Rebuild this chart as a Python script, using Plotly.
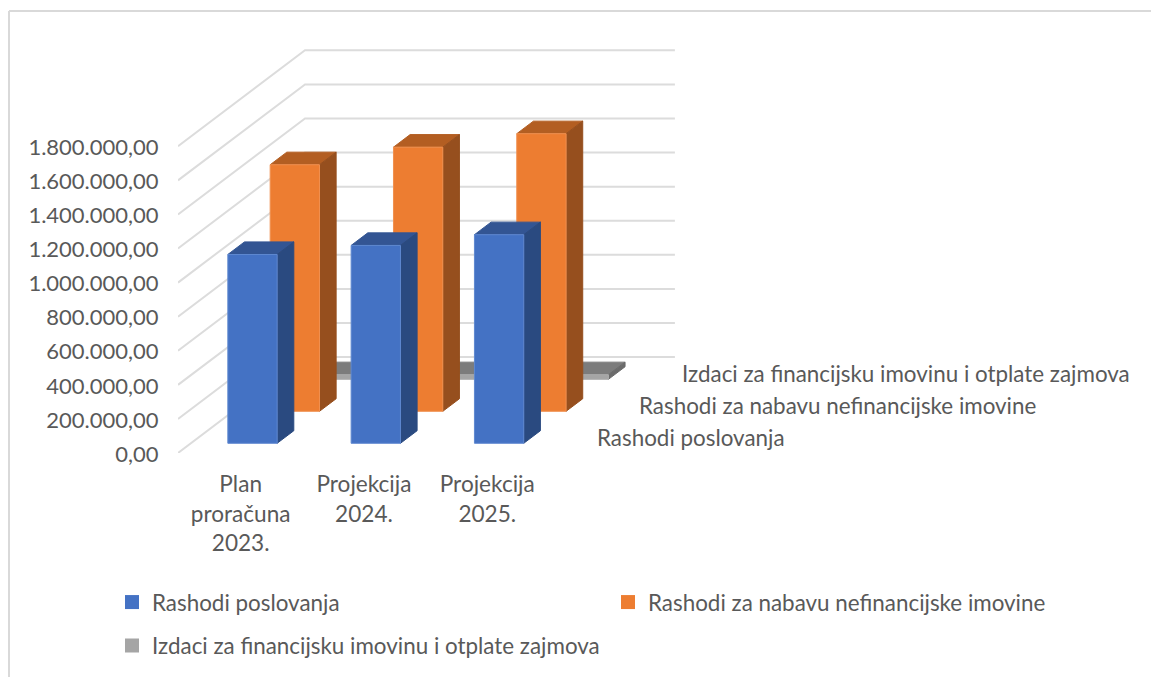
import plotly.graph_objects as go

categories = ["Plan<br>proračuna<br>2023.", "Projekcija<br>2024.", "Projekcija<br>2025."]
series_names = ["Rashodi poslovanja", "Rashodi za nabavu nefinancijske imovine",
                "Izdaci za financijsku imovinu i otplate zajmova"]
rashodi_poslovanja = [1108000, 1161000, 1224000]
rashodi_nabava = [1447000, 1550000, 1629000]
izdaci = [27000, 27000, 27000]
y_ticks = [0, 200000, 400000, 600000, 800000, 1000000, 1200000, 1400000, 1600000, 1800000]
y_tick_labels = ["0,00", "200.000,00", "400.000,00", "600.000,00", "800.000,00", "1.000.000,00",
                 "1.200.000,00", "1.400.000,00", "1.600.000,00", "1.800.000,00"]
front_colors = ["#4472c4", "#ed7d31", "#a5a5a5"]
edge_colors = ["#5f88d0", "#f09050", "#adadad"]
side_colors = ["#2a4a80", "#964f1e", "#6b6b6b"]
top_colors = ["#335593", "#b35e22", "#7c7c7c"]
series_values = [rashodi_poslovanja, rashodi_nabava, izdaci]

W, H = 1151, 677
PX_L, PX_T, PX_B = 178, 44, 453
CAT_PX = 123.3
Y_MAX = 2400000
X_MAX = (W - PX_L) / CAT_PX
DEPTH_X = 127 / CAT_PX          # oblique shift of the floor, in category units
DEPTH_Y = 96 / 34.1 * 200000    # oblique shift of the floor, in value units
BAR_W = 0.4
N_SER = 3
BAR_DEPTH = 0.131


def proj(x, d, v):
    """category position x, depth d (0..1), value v -> axis coordinates"""
    return x + d * DEPTH_X, v + d * DEPTH_Y


def poly(points):
    xs = [p[0] for p in points] + [points[0][0], None]
    ys = [p[1] for p in points] + [points[0][1], None]
    return xs, ys


fig = go.Figure()

# walls: grid lines
gx, gy = [], []
for v in y_ticks:
    for p in (proj(0, 0, v), proj(0, 1, v), proj(len(categories), 1, v)):
        gx.append(p[0])
        gy.append(p[1])
    gx.append(None)
    gy.append(None)
fig.add_trace(go.Scatter(x=gx, y=gy, mode="lines", line=dict(color="#dcdcdc", width=2),
                         showlegend=False, hoverinfo="skip", cliponaxis=False))

# bars, back row first
for s in reversed(range(N_SER)):
    d0 = (s + 0.5) / N_SER - BAR_DEPTH / 2
    d1 = d0 + BAR_DEPTH
    fx, fy, sx, sy, tx, ty = [], [], [], [], [], []
    for c, val in enumerate(series_values[s]):
        x0 = c + (1 - BAR_W) / 2
        x1 = x0 + BAR_W
        a, b = poly([proj(x0, d0, 0), proj(x1, d0, 0), proj(x1, d0, val), proj(x0, d0, val)])
        fx += a; fy += b
        a, b = poly([proj(x1, d0, 0), proj(x1, d1, 0), proj(x1, d1, val), proj(x1, d0, val)])
        sx += a; sy += b
        a, b = poly([proj(x0, d0, val), proj(x1, d0, val), proj(x1, d1, val), proj(x0, d1, val)])
        tx += a; ty += b
    common = dict(mode="lines", fill="toself", showlegend=False, hoverinfo="skip", cliponaxis=False)
    fig.add_trace(go.Scatter(x=tx, y=ty, fillcolor=top_colors[s], line=dict(color=top_colors[s], width=1), **common))
    fig.add_trace(go.Scatter(x=sx, y=sy, fillcolor=side_colors[s], line=dict(color=side_colors[s], width=1), **common))
    fig.add_trace(go.Scatter(x=fx, y=fy, fillcolor=front_colors[s], line=dict(color=edge_colors[s], width=1), **common))

# legend entries
legend_ids = ["legend", "legend2", "legend3"]
for s in range(N_SER):
    fig.add_trace(go.Scatter(x=[None], y=[None], mode="markers", name=series_names[s],
                             marker=dict(symbol="square", size=14, color=front_colors[s]),
                             legend=legend_ids[s]))

FONT = "Lato"
FS = 22.4
TXT = "#595959"


def legend_at(px, py):
    return dict(x=px / W, y=1 - py / H, xref="container", yref="container",
                xanchor="left", yanchor="middle", bgcolor="rgba(0,0,0,0)", borderwidth=0,
                font=dict(family=FONT, size=FS, color=TXT))


# depth axis labels
annotations = []
for s in range(N_SER):
    x, y = proj(len(categories), (s + 0.5) / N_SER, 0)
    annotations.append(dict(x=x, y=y, xref="x", yref="y", text=series_names[s], showarrow=False,
                            xanchor="left", yanchor="middle", xshift=26,
                            font=dict(family=FONT, size=FS, color=TXT)))

plot_w = W - PX_L
plot_h = PX_B - PX_T
border_color = "#d9d9d9"
fig.update_layout(
    width=W, height=H, autosize=False,
    margin=dict(l=PX_L, r=0, t=PX_T, b=H - PX_B, autoexpand=False),
    paper_bgcolor="white", plot_bgcolor="white",
    font=dict(family=FONT, size=FS, color=TXT),
    xaxis=dict(range=[0, X_MAX], tickmode="array",
               tickvals=[i + 0.5 for i in range(len(categories))], ticktext=categories,
               showgrid=False, zeroline=False, showline=False, ticks="outside", ticklen=11,
               tickcolor="rgba(0,0,0,0)", fixedrange=True, ticklabelshift=1,
               tickfont=dict(family=FONT, size=22.6, color=TXT)),
    yaxis=dict(range=[0, Y_MAX], tickmode="array", tickvals=y_ticks, ticktext=y_tick_labels,
               showgrid=False, zeroline=False, showline=False, ticks="outside", ticklen=14,
               tickcolor="rgba(0,0,0,0)", fixedrange=True, ticklabelshift=1,
               tickfont=dict(family=FONT, size=22, color=TXT)),
    legend=legend_at(112, 602.5),
    legend2=legend_at(608, 602.5),
    legend3=legend_at(112, 646),
    annotations=annotations,
    shapes=[
        dict(type="line", xref="paper", yref="paper", x0=(9 - PX_L) / plot_w, x1=1,
             y0=(PX_B - 11) / plot_h, y1=(PX_B - 11) / plot_h, line=dict(color=border_color, width=2)),
        dict(type="line", xref="paper", yref="paper", x0=(9 - PX_L) / plot_w, x1=(9 - PX_L) / plot_w,
             y0=(PX_B - 11) / plot_h, y1=(PX_B - H) / plot_h, line=dict(color=border_color, width=2)),
    ],
)

fig.write_html("out.html", config=dict(displayModeBar=False),
               post_script="document.body.style.margin='0';")
